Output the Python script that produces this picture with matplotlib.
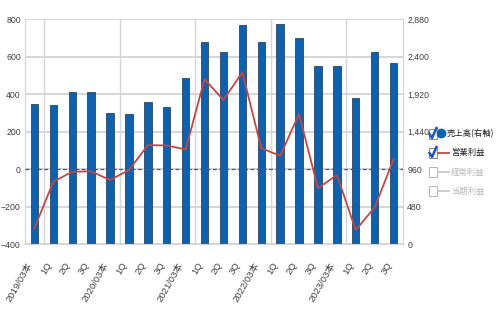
import numpy as np
import matplotlib
matplotlib.use("Agg")
import matplotlib.pyplot as plt
from matplotlib.lines import Line2D
from matplotlib.patches import Rectangle

plt.rcParams['font.family'] = ['Liberation Sans', 'Noto Sans CJK JP', 'DejaVu Sans']

# data
labels = ["2019/03本", "1Q", "2Q", "3Q",
          "2020/03本", "1Q", "2Q", "3Q",
          "2021/03本", "1Q", "2Q", "3Q",
          "2022/03本", "1Q", "2Q", "3Q",
          "2023/03本", "1Q", "2Q", "3Q"]
sales = [1800, 1780, 1945, 1945, 1675, 1663, 1817, 1760, 2124, 2585,
         2458, 2807, 2585, 2820, 2637, 2278, 2278, 1876, 2458, 2321]
op_profit = [-315, -67, -14, -12, -58, -5, 128, 126, 105, 480,
             369, 517, 112, 71, 294, -102, -32, -325, -205, 52]
left_ticks = [-400, -200, 0, 200, 400, 600, 800]
right_ticks = [0, 480, 960, 1440, 1920, 2400, 2880]
year_edges = [0.5, 4.5, 8.5, 12.5, 16.5]

x = np.arange(len(labels))
grid_col = '#d6d6d6'
txt_col = '#404040'

fig = plt.figure(figsize=(4.97, 3.14), dpi=100)
ax = fig.add_axes([25 / 497, 70 / 314, 378 / 497, 224.7 / 314])
ax2 = ax.twinx()

# bars (right axis) sit below the profit line
ax2.set_zorder(1)
ax.set_zorder(2)
ax.patch.set_visible(False)

ax2.bar(x, sales, width=0.39, color='#0b62b3', edgecolor='#1b2f4a',
        linewidth=0.5, zorder=3)
ax2.set_ylim(0, 2880)
ax2.set_yticks(right_ticks)
ax2.set_yticklabels([f"{v:,}" for v in right_ticks])
for t in right_ticks:
    ax2.axhline(t, color=grid_col, linewidth=1.4, zorder=0)
for e in year_edges:
    ax2.axvline(e, color=grid_col, linewidth=1.0, zorder=0)

ax.plot(x, op_profit, color='#c8463f', linewidth=1.3, zorder=4)
ax.axhline(0, color='#5a4a8c', linewidth=0.9, linestyle=(0, (3, 2)), zorder=3)
ax.set_ylim(-400, 800)
ax.set_yticks(left_ticks)
ax.set_xlim(-0.5, len(labels) - 0.5)
ax.set_xticks(x)
ax.set_xticklabels(labels, rotation=60, ha='right', va='top',
                   family=['Liberation Sans', 'Noto Sans CJK JP'])

for a in (ax, ax2):
    for s in a.spines.values():
        s.set_color(grid_col)
    a.spines['top'].set_visible(False)
    a.tick_params(length=0, labelsize=6.3, labelcolor=txt_col)
ax.tick_params(axis='y', pad=3)
ax2.tick_params(axis='y', pad=3)
ax.tick_params(axis='x', pad=12, labelsize=6.8)


# legend drawn by hand to look like the checkbox legend in the reference
def fx(px):
    return px / 497


def fy(py):
    return 1 - py / 314


legend_items = ["売上高(右軸)", "営業利益", "経常利益", "当期利益"]
legend_on = [True, True, False, False]
legend_y = [134, 153, 172, 191]
for name, on, py in zip(legend_items, legend_on, legend_y):
    box = Rectangle((fx(428.5), fy(py + 5)), 8 / 497, 10 / 314,
                    transform=fig.transFigure, facecolor='white',
                    edgecolor='#8a8a8a' if on else '#b5b5b5', linewidth=0.7)
    fig.add_artist(box)
    if on:
        fig.add_artist(Line2D([fx(429.5), fx(432), fx(436.5)],
                              [fy(py), fy(py + 4), fy(py - 6)],
                              transform=fig.transFigure, color='#1a56c8',
                              linewidth=1.8))
    if name == "売上高(右軸)":
        fig.add_artist(Line2D([fx(441)], [fy(py - 1)], marker='o',
                              markersize=6, color='#0b62b3',
                              transform=fig.transFigure))
        tx = 446.5
    else:
        fig.add_artist(Line2D([fx(438), fx(449)], [fy(py), fy(py)],
                              transform=fig.transFigure,
                              color='#c8463f' if on else '#c8c8c8',
                              linewidth=1.3))
        tx = 451
    fig.text(fx(tx), fy(py), name, fontsize=6, va='center', ha='left',
             color='#202020' if on else '#b8b8b8',
             family=['Noto Sans CJK JP', 'DejaVu Sans'])

fig.savefig("out.png", dpi=100)
